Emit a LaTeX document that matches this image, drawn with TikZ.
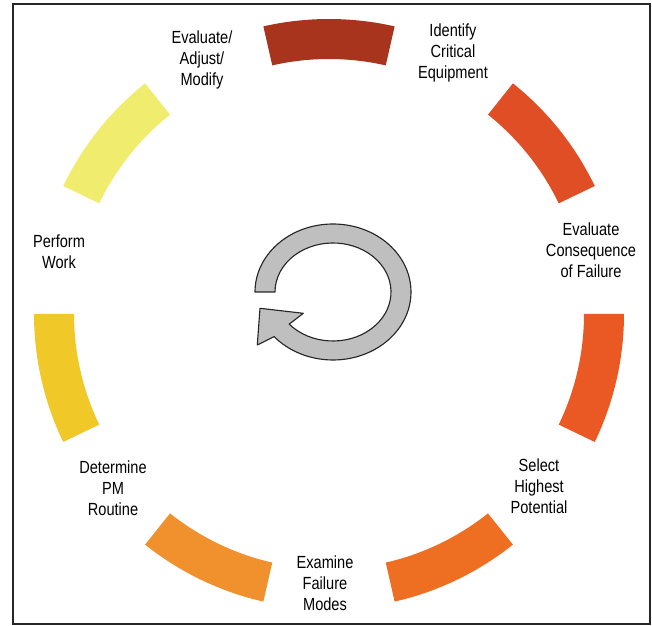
\documentclass[tikz,border=0pt]{standalone}
\usepackage{fontspec}
\setmainfont{Liberation Sans}[FakeStretch=0.83]
\definecolor{segA}{RGB}{168,52,30}
\definecolor{segB}{RGB}{224,78,38}
\definecolor{segC}{RGB}{234,88,36}
\definecolor{segD}{RGB}{238,110,34}
\definecolor{segE}{RGB}{240,145,45}
\definecolor{segF}{RGB}{240,200,40}
\definecolor{segG}{RGB}{240,236,110}
\begin{document}
\begin{tikzpicture}
    [
        step label/.style = {align=center, font=\fontsize{12.5}{15}\selectfont, inner sep=0pt},
        cycle arrow/.style = {fill=black!25, draw=black!85, line width=0.8pt, line join=round},
    ]

    \useasboundingbox (-8.225,-7.8) rectangle (8.075,7.85);
    \draw[black!85, line width=0.9pt] (-7.9,-7.75) rectangle (8.025,7.75);

    \fill[segA] (77.143:7.375) arc (77.143:102.857:7.375) -- (102.857:6.375) arc (102.857:77.143:6.375) -- cycle;
    \fill[segB] (25.714:7.375) arc (25.714:51.429:7.375) -- (51.429:6.375) arc (51.429:25.714:6.375) -- cycle;
    \fill[segC] (-25.714:7.375) arc (-25.714:0:7.375) -- (0:6.375) arc (0:-25.714:6.375) -- cycle;
    \fill[segD] (-77.143:7.375) arc (-77.143:-51.429:7.375) -- (-51.429:6.375) arc (-51.429:-77.143:6.375) -- cycle;
    \fill[segE] (-128.571:7.375) arc (-128.571:-102.857:7.375) -- (-102.857:6.375) arc (-102.857:-128.571:6.375) -- cycle;
    \fill[segF] (-180:7.375) arc (-180:-154.286:7.375) -- (-154.286:6.375) arc (-154.286:-180:6.375) -- cycle;
    \fill[segG] (128.571:7.375) arc (128.571:154.286:7.375) -- (154.286:6.375) arc (154.286:128.571:6.375) -- cycle;

    \node[step label] (identify)    at (3.1,6.525)    {Identify\\Critical\\Equipment};
    \node[step label] (consequence) at (6.55,1.6)     {Evaluate\\Consequence\\of Failure};
    \node[step label] (select)      at (5.25,-4.3)    {Select\\Highest\\Potential};
    \node[step label] (examine)     at (-0.1,-6.725)  {Examine\\Failure\\Modes};
    \node[step label] (determine)   at (-5.4,-4.35)   {Determine\\PM\\Routine};
    \node[step label] (perform)     at (-6.75,1.55)   {Perform\\Work};
    \node[step label] (adjust)      at (-3.175,6.35)  {Evaluate/\\Adjust/\\Modify};

    \draw[cycle arrow] ([shift={(0.1,0.55)}]180:1.95 and 1.7)
        arc [start angle=180, end angle=-139, x radius=1.95, y radius=1.7]
        -- (-1.7925,-0.775) -- (-1.725,0.1425) -- (-0.6425,0.0175)
        -- ([shift={(0.1,0.55)}]-139:1.45 and 1.225)
        arc [start angle=-139, end angle=180, x radius=1.45, y radius=1.225] -- cycle;
\end{tikzpicture}
\end{document}
